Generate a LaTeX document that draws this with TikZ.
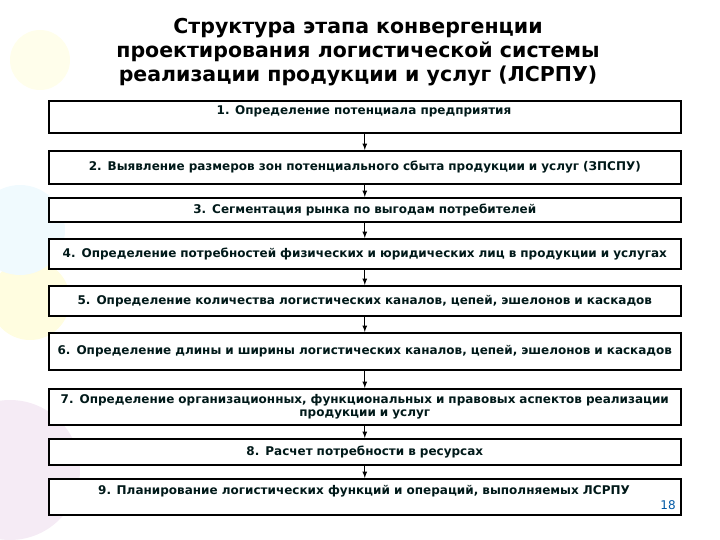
\documentclass[tikz,border=0pt]{standalone}
\usepackage{fontspec}
\setmainfont{DejaVu Sans}
\begin{document}
\begin{tikzpicture}[x=1pt,y=-1pt,
  stepbox/.style={draw=black,line width=1.6pt,fill=white,minimum width=632pt,anchor=north west,inner sep=1pt,align=center,text width=630pt,font=\bfseries\fontsize{12}{13.5}\selectfont,text=black!80!teal},
  toptext/.style={anchor=north,inner sep=0pt,align=center,font=\bfseries\fontsize{12}{13.5}\selectfont,text=black!80!teal},
  conn/.style={-latex,line width=1.2pt}]
\useasboundingbox (0,0) rectangle (720,540);
% faint background decorations
\fill[violet!8] (10,470) circle (70);
\fill[yellow!12] (30,300) circle (40);
\fill[cyan!6] (20,230) circle (45);
\fill[yellow!8] (40,60) circle (30);
\node[font=\bfseries\fontsize{20.5}{24}\selectfont,align=center] (title) at (358,52) {Структура этапа конвергенции\\проектирования логистической системы\\реализации продукции и услуг (ЛСРПУ)};
\node[stepbox,minimum height=32pt] (b1) at (48,100) {};
\node[toptext] (t1) at (364,105) {1. Определение потенциала предприятия};
\node[stepbox,minimum height=33pt] (b2) at (48,150) {2. Выявление размеров зон потенциального сбыта продукции и услуг (ЗПСПУ)};
\node[stepbox,minimum height=24pt] (b3) at (48,197) {3. Сегментация рынка по выгодам потребителей};
\node[stepbox,minimum height=30pt] (b4) at (48,238) {4. Определение потребностей физических и юридических лиц в продукции и услугах};
\node[stepbox,minimum height=30pt] (b5) at (48,285) {5. Определение количества логистических каналов, цепей, эшелонов и каскадов};
\node[stepbox,minimum height=37pt] (b6) at (48,332) {6. Определение длины и ширины логистических каналов, цепей, эшелонов и каскадов};
\node[stepbox,minimum height=36pt] (b7) at (48,388) {7. Определение организационных, функциональных и правовых аспектов реализации\\продукции и услуг};
\node[stepbox,minimum height=26pt] (b8) at (48,438) {8. Расчет потребности в ресурсах};
\node[stepbox,minimum height=36pt] (b9) at (48,478) {};
\node[toptext] (t9) at (364,485) {9. Планирование логистических функций и операций, выполняемых ЛСРПУ};
\node[text=teal!70!blue,font=\fontsize{12}{14}\selectfont] (pg) at (668,505) {18};
\foreach \a/\b in {b1/b2,b2/b3,b3/b4,b4/b5,b5/b6,b6/b7,b7/b8,b8/b9}
  \draw[conn] (\a.south) -- (\b.north);
\end{tikzpicture}
\end{document}
